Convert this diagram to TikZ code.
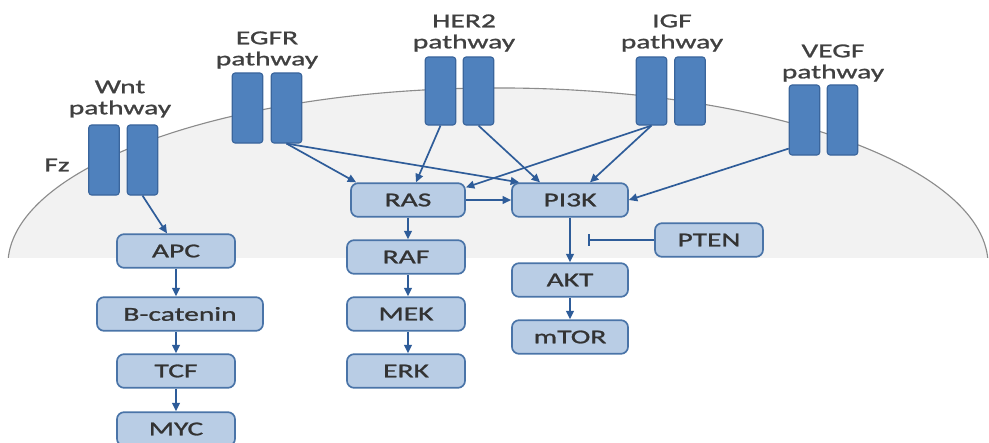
\documentclass[tikz,border=0pt]{standalone}
\usepackage{fontspec}
\setmainfont{Carlito}[FakeStretch=1.5,FakeBold=1.2]
\usetikzlibrary{arrows.meta,calc}
\definecolor{recfill}{HTML}{4F81BD}
\definecolor{recline}{HTML}{3A659C}
\definecolor{protfill}{HTML}{B9CDE5}
\definecolor{protline}{HTML}{4A74A8}
\definecolor{sigblue}{HTML}{2E5C99}
\begin{document}
\begin{tikzpicture}[x=0.025cm,y=-0.025cm,
		font=\fontsize{14}{15}\selectfont,
		receptor/.style={draw=recline,fill=recfill,line width=0.8pt,rounded corners=2pt,
			minimum width=0.76cm,minimum height=#1,inner sep=0pt},
		receptor/.default=1.72cm,
		prot/.style={draw=protline,fill=protfill,line width=1.2pt,rounded corners=5pt,
			minimum width=#1,minimum height=0.84cm,inner sep=0pt,text=black!80},
		prot/.default=2.95cm,
		pathlabel/.style={align=center,text=black!75,inner sep=0pt},
		sig/.style={draw=sigblue,line width=1.2pt,-{Triangle[length=6pt,width=5.5pt]}},
		block/.style={draw=sigblue,line width=1.2pt,-{Bar[width=8pt]}}]
		\useasboundingbox (0,0) rectangle (989,442);
		\begin{scope}
			\clip (0,0) rectangle (989,257);
			\filldraw[fill=black!5,draw=black!45,line width=0.8pt] (498,265) ellipse [x radius=12.25cm,y radius=4.425cm];
		\end{scope}
		
		\node[receptor=1.75cm] (wntL) at (104,160) {};
		\node[receptor=1.75cm] (wntR) at (142.5,160) {};
		\node[receptor=1.75cm] (egfrL) at (247.5,108) {};
		\node[receptor=1.75cm] (egfrR) at (286.5,108) {};
		\node[receptor=1.7cm] (her2L) at (440.5,91) {};
		\node[receptor=1.7cm] (her2R) at (478.5,91) {};
		\node[receptor=1.7cm] (igfL) at (651.5,91) {};
		\node[receptor=1.7cm] (igfR) at (690,91) {};
		\node[receptor=1.75cm] (vegfL) at (804.5,120) {};
		\node[receptor=1.75cm] (vegfR) at (842.5,120) {};
		
		\node[pathlabel] (wntlab) at (120,99) {Wnt\\pathway};
		\node[pathlabel] (egfrlab) at (267,50) {EGFR\\pathway};
		\node[pathlabel] (her2lab) at (464,33) {HER2\\pathway};
		\node[pathlabel] (igflab) at (672,33) {IGF\\pathway};
		\node[pathlabel] (vegflab) at (833,63) {VEGF\\pathway};
		\node[pathlabel] (fz) at (57,165) {Fz};
		
		\node[prot] (apc) at (176,251) {APC};
		\node[prot=4.15cm] (bcat) at (180,314) {B-catenin};
		\node[prot] (tcf) at (176,371) {TCF};
		\node[prot] (myc) at (176,429) {MYC};
		\node[prot=2.85cm] (ras) at (408,200) {RAS};
		\node[prot] (raf) at (406,257) {RAF};
		\node[prot] (mek) at (406,314) {MEK};
		\node[prot] (erk) at (406,371) {ERK};
		\node[prot=2.9cm] (pi3k) at (570,200) {PI3K};
		\node[prot=2.9cm] (akt) at (570,280) {AKT};
		\node[prot=2.9cm] (mtor) at (570,337) {mTOR};
		\node[prot=2.7cm] (pten) at (709,240) {PTEN};
		\coordinate (ptenstop) at (588,240);
		
		\draw[sig] (wntR.south) -- ($(apc.north)+(-9,0)$);
		\draw[sig] (apc.south) -- (apc.south |- bcat.north);
		\draw[sig] (apc.south |- bcat.south) -- (tcf.north);
		\draw[sig] (tcf.south) -- (myc.north);
		
		\draw[sig] (egfrR.south) -- ($(ras.north west)+(6,0)$);
		\draw[sig] (egfrR.south) -- ($(pi3k.north west)+(8,0)$);
		\draw[sig] (her2L.south) -- ($(ras.north)+(8,0)$);
		\draw[sig] (her2R.south) -- ($(pi3k.north)+(-30,0)$);
		\draw[sig] (igfL.south) -- ($(ras.north east)+(0,5)$);
		\draw[sig] (igfL.south) -- ($(pi3k.north)+(20,0)$);
		\draw[sig] ($(vegfL.south west)+(0,-7)$) -- (pi3k.east);
		
		\draw[sig] (ras.east) -- (pi3k.west);
		\draw[sig] (ras.south) -- (ras.south |- raf.north);
		\draw[sig] (ras.south |- raf.south) -- (ras.south |- mek.north);
		\draw[sig] (ras.south |- mek.south) -- (ras.south |- erk.north);
		\draw[sig] (pi3k.south) -- (akt.north);
		\draw[sig] (akt.south) -- (mtor.north);
		\draw[block] (pten.west) -- (ptenstop);
	\end{tikzpicture}
\end{document}
